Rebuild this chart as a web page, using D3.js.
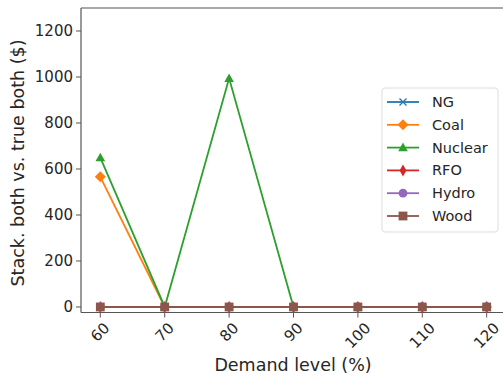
<!DOCTYPE html>
<html>
<head>
<meta charset="utf-8">
<script src="https://cdn.jsdelivr.net/npm/d3@7"></script>
<style>
  body { margin: 0; background: #fff; }
  text { font-family: "DejaVu Sans", sans-serif; fill: #262626; }
</style>
</head>
<body>
<svg id="chart" width="503" height="374"></svg>
<script>
var demand = [60, 70, 80, 90, 100, 110, 120];
var yTicks = [0, 200, 400, 600, 800, 1000, 1200];

var ng      = [0, 0, 0, 0, 0, 0, 0];
var coal    = [566, 0, 0, 0, 0, 0, 0];
var nuclear = [649, 0, 994, 0, 0, 0, 0];
var rfo     = [0, 0, 0, 0, 0, 0, 0];
var hydro   = [0, 0, 0, 0, 0, 0, 0];
var wood    = [0, 0, 0, 0, 0, 0, 0];

var seriesNames = ["NG", "Coal", "Nuclear", "RFO", "Hydro", "Wood"];
var seriesValues = [ng, coal, nuclear, rfo, hydro, wood];
var seriesColors = ["#1f77b4", "#ff7f0e", "#2ca02c", "#d62728", "#9467bd", "#8c564b"];
var seriesMarkers = ["x", "D", "^", "d", "o", "s"];

var svg = d3.select("#chart");
var plotL = 81, plotT = 8, plotB = 312.5, plotR = 506;

var x = d3.scaleLinear().domain([57, 123]).range([plotL, plotR]);
var y = d3.scaleLinear().domain([-24, 1300]).range([plotB, plotT]);

// marker shapes
function marker(g, type, color) {
  var s = 4.4;
  if (type === "x") {
    g.append("path").attr("d", "M-3.5,-3.5L3.5,3.5M-3.5,3.5L3.5,-3.5")
      .attr("stroke", color).attr("stroke-width", 1.3).attr("fill", "none");
  } else if (type === "D") {
    g.append("path").attr("d", "M0,-5.5L5.5,0L0,5.5L-5.5,0Z").attr("fill", color);
  } else if (type === "^") {
    g.append("path").attr("d", "M0,-5L4.8,3.6L-4.8,3.6Z").attr("fill", color);
  } else if (type === "d") {
    g.append("path").attr("d", "M0,-6L3.4,0L0,6L-3.4,0Z").attr("fill", color);
  } else if (type === "o") {
    g.append("circle").attr("r", s).attr("fill", color);
  } else if (type === "s") {
    g.append("rect").attr("x", -s).attr("y", -s).attr("width", 2 * s).attr("height", 2 * s).attr("fill", color);
  }
}

// axes frame
svg.append("line").attr("x1", plotL).attr("x2", plotL).attr("y1", plotT).attr("y2", plotB)
  .attr("stroke", "#555").attr("stroke-width", 1.2);
svg.append("line").attr("x1", plotL).attr("x2", plotR).attr("y1", plotB).attr("y2", plotB)
  .attr("stroke", "#555").attr("stroke-width", 1.2);
svg.append("line").attr("x1", plotL).attr("x2", plotR).attr("y1", plotT).attr("y2", plotT)
  .attr("stroke", "#555").attr("stroke-width", 1.2);

// y ticks
var yAxis = svg.append("g");
yTicks.forEach(function(t) {
  yAxis.append("line").attr("x1", plotL - 5).attr("x2", plotL).attr("y1", y(t)).attr("y2", y(t))
    .attr("stroke", "#555").attr("stroke-width", 1);
  yAxis.append("text").attr("x", plotL - 8).attr("y", y(t)).attr("dy", "0.35em")
    .attr("text-anchor", "end").attr("font-size", 15).text(t);
});

// x ticks
var xAxis = svg.append("g");
demand.forEach(function(t) {
  xAxis.append("line").attr("x1", x(t)).attr("x2", x(t)).attr("y1", plotB).attr("y2", plotB + 5)
    .attr("stroke", "#555").attr("stroke-width", 1);
  var lbl = xAxis.append("text").attr("font-size", 15).attr("text-anchor", "middle")
    .attr("dominant-baseline", "central").text(t);
  var w = lbl.node().getComputedTextLength();
  var cy = plotB + 9 + (w + 11) * 0.7071 / 2;
  lbl.attr("transform", "translate(" + x(t) + "," + cy + ") rotate(-45)");
});

// axis labels
svg.append("text").attr("x", 293).attr("y", 371).attr("text-anchor", "middle")
  .attr("font-size", 17.5).text("Demand level (%)");
svg.append("text").attr("transform", "translate(24,163) rotate(-90)").attr("text-anchor", "middle")
  .attr("font-size", 17.5).text("Stack. both vs. true both ($)");

// series
var line = d3.line().x(function(d, i) { return x(demand[i]); }).y(function(d) { return y(d); });
seriesValues.forEach(function(vals, k) {
  var g = svg.append("g");
  g.append("path").attr("d", line(vals)).attr("fill", "none")
    .attr("stroke", seriesColors[k]).attr("stroke-width", 1.8);
  vals.forEach(function(v, i) {
    var m = g.append("g").attr("transform", "translate(" + x(demand[i]) + "," + y(v) + ")");
    marker(m, seriesMarkers[k], seriesColors[k]);
  });
});

// legend
var leg = svg.append("g");
leg.append("rect").attr("x", 382).attr("y", 88).attr("width", 116).attr("height", 144).attr("rx", 3)
  .attr("fill", "#fff").attr("fill-opacity", 0.8).attr("stroke", "#ddd").attr("stroke-width", 1);
seriesNames.forEach(function(name, k) {
  var ly = 102 + k * 22.8;
  leg.append("line").attr("x1", 387).attr("x2", 419).attr("y1", ly).attr("y2", ly)
    .attr("stroke", seriesColors[k]).attr("stroke-width", 1.8);
  var m = leg.append("g").attr("transform", "translate(403," + ly + ")");
  marker(m, seriesMarkers[k], seriesColors[k]);
  leg.append("text").attr("x", 432).attr("y", ly).attr("dy", "0.35em")
    .attr("font-size", 14.5).text(name);
});
</script>
</body>
</html>
